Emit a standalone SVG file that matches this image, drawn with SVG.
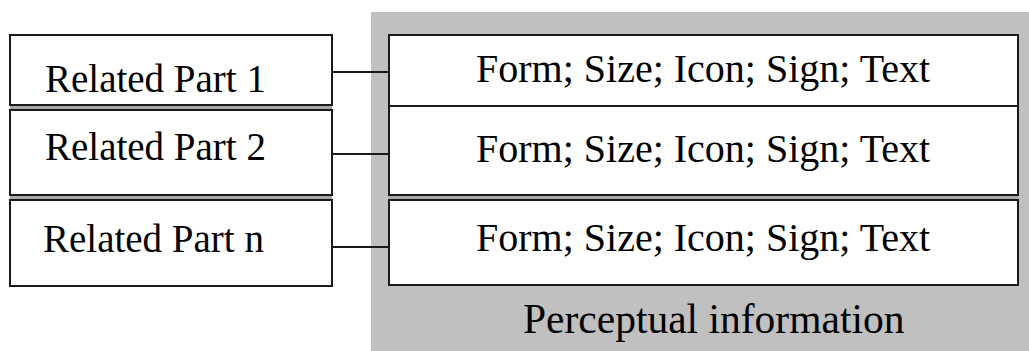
<svg xmlns="http://www.w3.org/2000/svg" width="1029" height="351" viewBox="0 0 1029 351">
<style>
.box{fill:#fff;stroke:#1a1a1a;stroke-width:2}
.gap{fill:#a8a8a8}
.t{font-family:"Liberation Serif","Times New Roman",serif;font-size:39px;fill:#000}
.f{font-size:40px}
.c{stroke:#1a1a1a;stroke-width:2;fill:none}
</style>
<rect id="bg" x="371" y="12" width="658" height="339" fill="#c0c0c0"/>
<rect class="gap" x="10" y="105" width="322" height="5"/>
<rect class="gap" x="10" y="195" width="322" height="5"/>
<rect class="gap" x="389" y="195" width="629" height="5"/>
<g id="related-part-1"><rect class="box" x="10" y="35" width="322" height="70"/><text class="t" x="45" y="92">Related Part 1</text></g>
<g id="related-part-2"><rect class="box" x="10" y="110" width="322" height="85"/><text class="t" x="45" y="160">Related Part 2</text></g>
<g id="related-part-n"><rect class="box" x="10" y="200" width="322" height="86"/><text class="t" x="43" y="252">Related Part n</text></g>
<g id="perceptual-1"><rect class="box" x="389" y="35" width="629" height="71"/><text class="t f" x="476" y="82">Form; Size; Icon; Sign; Text</text></g>
<g id="perceptual-2"><rect class="box" x="389" y="106" width="629" height="89"/><text class="t f" x="476" y="162">Form; Size; Icon; Sign; Text</text></g>
<g id="perceptual-n"><rect class="box" x="389" y="200" width="629" height="85"/><text class="t f" x="476" y="251">Form; Size; Icon; Sign; Text</text></g>
<g id="perceptual-label"><text class="t" x="523" y="333" style="font-size:41.5px">Perceptual information</text></g>
<g id="connectors">
<line class="c" x1="332" y1="72" x2="389" y2="72"/>
<line class="c" x1="332" y1="154" x2="389" y2="154"/>
<line class="c" x1="332" y1="247" x2="389" y2="247"/>
</g>
</svg>
